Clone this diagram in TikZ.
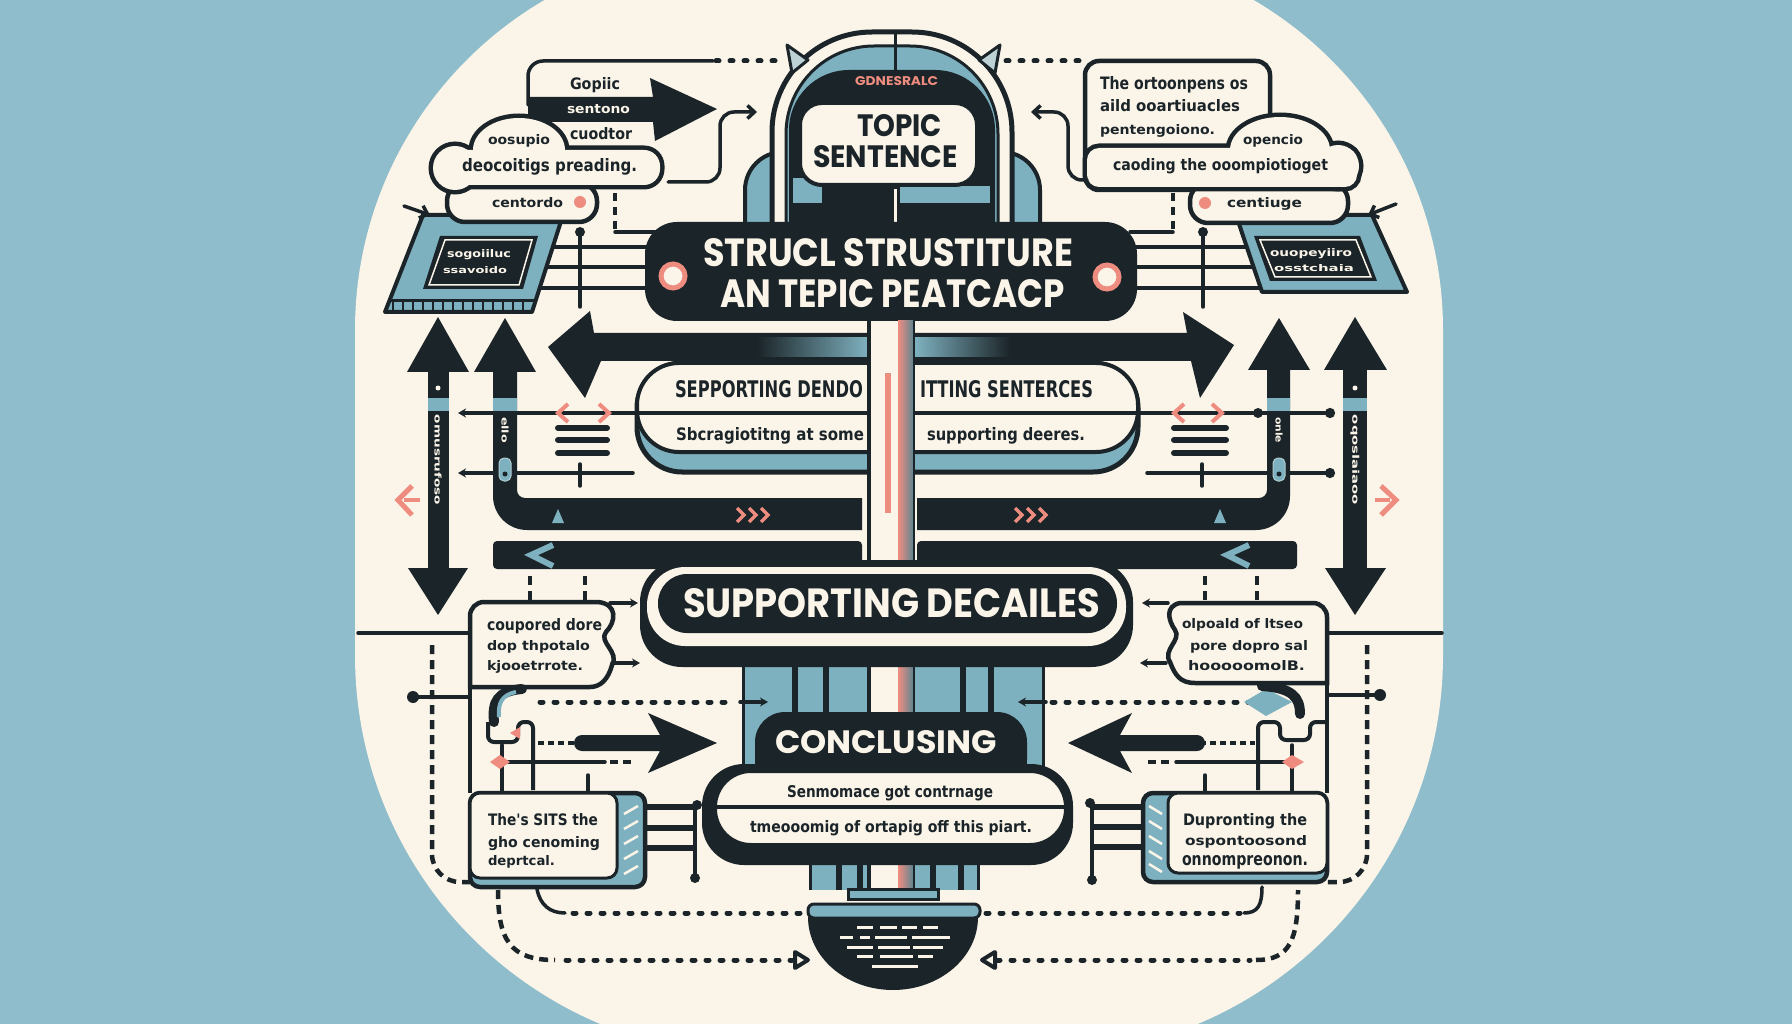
\documentclass[tikz,border=0pt]{standalone}
\usepackage{fontspec}
\usepackage{graphicx}
\setmainfont{Liberation Sans}
\newfontfamily\headf{Poppins}
\newfontfamily\bodyf{DejaVu Sans}
\usetikzlibrary{arrows.meta}
\definecolor{bgb}{HTML}{8FBDCB}
\definecolor{crm}{HTML}{FAF4E9}
\definecolor{dk}{HTML}{1B2428}
\definecolor{tl}{HTML}{7EB1BF}
\definecolor{pk}{HTML}{EF8C80}
\newcommand{\fitt}[3]{\resizebox{#1pt}{#2pt}{#3}}
\tikzset{
  thinl/.style={draw=dk, line width=3.5pt, line cap=round},
  dotln/.style={draw=dk, line width=5pt, line cap=round, dash pattern=on 3pt off 11pt},
  dashv/.style={draw=dk, line width=4.5pt, dash pattern=on 9pt off 6pt},
  tb/.style={anchor=base west, inner sep=0pt, outer sep=0pt, text=dk, font=\bodyf\bfseries},
  th/.style={anchor=base west, inner sep=0pt, outer sep=0pt, text=crm, font=\headf\bfseries},
  thd/.style={th, text=dk},
  tip/.style={-{Straight Barb[length=7pt,width=13pt]}},
  stl/.style={-{Stealth[length=8pt,width=9pt]}},
}
\begin{document}
\begin{tikzpicture}[x=1pt,y=-1pt]
\useasboundingbox (0,0) rectangle (1792,1024);
\fill[bgb] (0,0) rectangle (1792,1024);
% cream blob
\fill[crm] (355,330) arc[start angle=180,end angle=270,radius=382] -- (1061,-52)
  arc[start angle=270,end angle=360,radius=382] -- (1443,655)
  arc[start angle=0,end angle=90,radius=400] -- (755,1055)
  arc[start angle=90,end angle=180,radius=400] -- cycle;

% ---------- top connectors
\draw[dotln] (716,61) -- (784,61);
\draw[dotln] (1006,61) -- (1080,61);
\draw[thinl, rounded corners=15pt] (528,105) -- (528,61) -- (713,61);

% ---------- arch (topic sentence)
\filldraw[fill=tl, draw=dk, line width=4pt, rounded corners=38pt] (745,240) -- (745,152) -- (1040,152) -- (1040,240);
\filldraw[fill=crm, draw=dk, line width=5pt, rounded corners=100pt] (772,240) -- (772,32) -- (1012,32) -- (1012,240);
\filldraw[fill=tl, draw=dk, line width=3pt, rounded corners=88pt] (786,240) -- (786,46) -- (998,46) -- (998,240);
\fill[dk, rounded corners=60pt] (789,240) -- (789,70) -- (995,70) -- (995,240);
\fill[tl] (793,178) rectangle (822,203);
\fill[tl] (900,186) rectangle (990,203);
\filldraw[fill=crm, draw=dk, line width=4pt, rounded corners=22pt] (800,103) rectangle (977,185);
\draw[dk, line width=3pt] (895,32) -- (895,70);
\draw[crm, line width=3pt] (895,189) -- (895,222);
\filldraw[fill=tl!50!crm, draw=dk, line width=3pt, line join=round] (787,45) -- (808,60) -- (792,73) -- cycle;
\filldraw[fill=tl!50!crm, draw=dk, line width=3pt, line join=round] (1000,45) -- (979,60) -- (995,73) -- cycle;
\node[anchor=base west, inner sep=0pt, text=pk, font=\headf\bfseries] (gen) at (855,86) {\fitt{83}{9}{GDNESRALC}};
\node[thd] (topic) at (857,137) {\fitt{85}{22}{TOPIC}};
\node[thd] (sent) at (813,168) {\fitt{145}{22}{SENTENCE}};

% ---------- top-left group
\draw[thinl] (530,247) -- (668,247);
\draw[thinl] (530,267) -- (668,267);
\draw[thinl] (525,288) -- (668,288);
\draw[dk, line width=4pt, dash pattern=on 8pt off 6pt] (615,193) -- (615,232);
\draw[thinl] (615,232) -- (668,232);
\draw[thinl] (580,232) -- (580,307);
\fill[dk] (580,232) circle[radius=5];
\filldraw[fill=tl, draw=dk, line width=4pt, line join=round] (423,215) -- (563,215) -- (532,312) -- (385,312) -- cycle;
\draw[dk, line width=3pt] (390,301) -- (534,301);
\foreach \i in {0,...,13} \draw[dk, line width=2.5pt] ({393+\i*10},301) -- ({393+\i*10},311);
\fill[dk] (440,236) -- (538,236) -- (523,289) -- (423,289) -- cycle;
\draw[crm, line width=1.5pt] (445,240) -- (532,240) -- (519,285) -- (429,285) -- cycle;
\node[tb, text=crm] (tlt1) at (447,258) {\fitt{64}{8}{sogoiiluc}};
\node[tb, text=crm] (tlt2) at (443,274) {\fitt{64}{7}{ssavoido}};
\draw[thinl, tip] (404,206) -- (430,215);
\filldraw[fill=crm, draw=dk, line width=4.5pt, rounded corners=18pt] (447,183) rectangle (597,222);
\fill[dk] (528,97) -- (653,97) -- (650,78) -- (717,109) -- (655,141) -- (653,122) -- (528,122) -- cycle;
\draw[dk, line width=9pt, rounded corners=16pt] (435,150) rectangle (660,185);
\draw[dk, line width=9pt] (519,150) ellipse [x radius=46, y radius=32];
\draw[dk, line width=9pt] (455,168) circle [radius=22];
\fill[crm, rounded corners=16pt] (435,150) rectangle (660,185);
\fill[crm] (519,150) ellipse [x radius=46, y radius=32];
\fill[crm] (455,168) circle [radius=22];
\node[tb] (gop) at (570,90) {\fitt{50}{12}{Gopiic}};
\node[tb, text=crm] (sto) at (567,114) {\fitt{63}{9}{sentono}};
\node[tb] (cuo) at (570,140) {\fitt{62}{12}{cuodtor}};
\node[tb] (oos) at (488,145) {\fitt{62}{10}{oosupio}};
\node[tb] (deo) at (462,172) {\fitt{175}{13}{deocoitigs preading.}};
\node[tb] (cen) at (492,208) {\fitt{71}{10}{centordo}};
\fill[pk] (580,202) circle[radius=6];
\draw[thinl, rounded corners=14pt, tip] (668,182) -| (720,112) -- (757,112);

% ---------- top-right group
\draw[thinl] (1130,247) -- (1255,247);
\draw[thinl] (1130,267) -- (1258,267);
\draw[thinl] (1130,288) -- (1262,288);
\draw[dk, line width=4pt, dash pattern=on 8pt off 6pt] (1173,193) -- (1173,232);
\draw[thinl] (1130,232) -- (1173,232);
\draw[thinl] (1203,232) -- (1203,307);
\fill[dk] (1203,232) circle[radius=5];
\filldraw[fill=crm, draw=dk, line width=4.5pt, rounded corners=14pt] (1085,61) rectangle (1270,190);
\filldraw[fill=tl, draw=dk, line width=4pt, line join=round] (1236,215) -- (1372,215) -- (1407,292) -- (1262,292) -- cycle;
\fill[dk] (1254,236) -- (1360,236) -- (1377,281) -- (1270,281) -- cycle;
\draw[crm, line width=1.5pt] (1260,240) -- (1356,240) -- (1371,277) -- (1275,277) -- cycle;
\node[tb, text=crm] (trt1) at (1270,257) {\fitt{82}{8}{ouopeyiiro}};
\node[tb, text=crm] (trt2) at (1274,272) {\fitt{80}{7}{osstchaia}};
\draw[thinl, tip] (1396,204) -- (1368,215);
\filldraw[fill=crm, draw=dk, line width=4.5pt, rounded corners=18pt] (1190,183) rectangle (1348,223);
\draw[dk, line width=9pt, rounded corners=12pt] (1087,148) rectangle (1357,187);
\draw[dk, line width=9pt] (1280,150) ellipse [x radius=50, y radius=33];
\draw[dk, line width=9pt] (1338,166) circle [radius=21];
\fill[crm, rounded corners=12pt] (1087,148) rectangle (1357,187);
\fill[crm] (1280,150) ellipse [x radius=50, y radius=33];
\fill[crm] (1338,166) circle [radius=21];
\node[tb] (tr1) at (1100,90) {\fitt{148}{13}{The ortoonpens os}};
\node[tb] (tr2) at (1100,112) {\fitt{140}{12}{aild ooartiuacles}};
\node[tb] (tr3) at (1100,135) {\fitt{115}{10}{pentengoiono.}};
\node[tb] (opc) at (1243,145) {\fitt{60}{10}{opencio}};
\node[tb] (cad) at (1113,171) {\fitt{215}{12}{caoding the ooompiotioget}};
\node[tb] (cnt) at (1227,208) {\fitt{75}{10}{centiuge}};
\fill[pk] (1205,203) circle[radius=6];
\draw[thinl, rounded corners=14pt, tip] (1087,180) -| (1068,112) -- (1031,112);

% ---------- title banner
\fill[dk, rounded corners=32pt] (645,222) rectangle (1137,321);
\filldraw[fill=crm, draw=pk, line width=5pt] (673,276) circle[radius=12];
\filldraw[fill=crm, draw=pk, line width=5pt] (1107,277) circle[radius=12];
\node[th] (ttl1) at (703,267) {\fitt{370}{28}{STRUCL STRUSTITURE}};
\node[th] (ttl2) at (720,308) {\fitt{345}{28}{AN TEPIC PEATCACP}};

% ---------- thin lines middle
\draw[thinl, {Stealth[length=8pt,width=9pt]}-] (458,413) -- (640,413);
\draw[thinl, {Stealth[length=8pt,width=9pt]}-] (458,473) -- (633,473);
\draw[thinl] (580,464) -- (580,486);
\foreach \yy in {428,440,453} \draw[dk, line width=6pt, line cap=round] (558,\yy) -- (607,\yy);
\draw[pk, line width=4pt] (568,404) -- (558,413) -- (568,422);
\draw[pk, line width=4pt] (599,404) -- (609,413) -- (599,422);
\draw[thinl, -{Circle[length=10pt]}] (1135,413) -- (1335,413);
\fill[dk] (1258,413) circle[radius=5];
\draw[thinl, -{Circle[length=10pt]}] (1147,473) -- (1335,473);
\draw[thinl] (1202,464) -- (1202,486);
\foreach \yy in {428,440,453} \draw[dk, line width=6pt, line cap=round] (1174,\yy) -- (1226,\yy);
\draw[pk, line width=4pt] (1184,404) -- (1174,413) -- (1184,422);
\draw[pk, line width=4pt] (1212,404) -- (1222,413) -- (1212,422);

% ---------- outer double arrows
\fill[dk] (428,365) rectangle (449,575);
\fill[dk] (407,372) -- (438,317) -- (469,372) -- cycle;
\fill[dk] (408,568) -- (438,615) -- (468,568) -- cycle;
\fill[tl] (428,398) rectangle (449,411);
\fill[crm] (438,388) circle[radius=2.5];
\node[rotate=-90, inner sep=0pt, text=crm, font=\bodyf\bfseries] (lab1) at (438,460) {\fitt{90}{7}{omusrufoso}};
\fill[dk] (1343,365) rectangle (1367,575);
\fill[dk] (1324,370) -- (1355,317) -- (1387,370) -- cycle;
\fill[dk] (1325,568) -- (1355,615) -- (1386,568) -- cycle;
\fill[tl] (1343,398) rectangle (1367,411);
\fill[crm] (1355,388) circle[radius=2.5];
\node[rotate=-90, inner sep=0pt, text=crm, font=\bodyf\bfseries] (lab2) at (1355,460) {\fitt{90}{7}{oqoslaiaoo}};
\draw[pk, line width=5pt] (412,486) -- (398,500) -- (412,515);
\draw[pk, line width=4pt] (404,500) -- (420,500);
\draw[pk, line width=5pt] (1381,486) -- (1396,500) -- (1381,515);
\draw[pk, line width=4pt] (1375,500) -- (1390,500);

% ---------- inner shafts with bars
\fill[dk] (493,365) -- (493,496) arc[start angle=180,end angle=90,radius=34] -- (862,530) -- (862,498) -- (525,498) arc[start angle=90,end angle=180,radius=8] -- (517,365) -- cycle;
\fill[dk] (474,372) -- (505,318) -- (536,372) -- cycle;
\fill[tl] (493,398) rectangle (517,411);
\node[rotate=-90, inner sep=0pt, text=crm, font=\bodyf\bfseries] (lab3) at (505,430) {\fitt{26}{7}{ello}};
\filldraw[fill=tl, draw=tl!60!crm, line width=1pt, rounded corners=5pt] (499,458) rectangle (511,481);
\fill[dk] (505,474) circle[radius=2.5];
\fill[dk] (917,498) -- (1259,498) arc[start angle=90,end angle=0,radius=8] -- (1267,365) -- (1290,365) -- (1290,496) arc[start angle=0,end angle=90,radius=34] -- (917,530) -- cycle;
\fill[dk] (1248,370) -- (1279,318) -- (1310,370) -- cycle;
\fill[tl] (1267,398) rectangle (1290,411);
\node[rotate=-90, inner sep=0pt, text=crm, font=\bodyf\bfseries] (lab4) at (1279,430) {\fitt{26}{7}{onle}};
\filldraw[fill=tl, draw=tl!60!crm, line width=1pt, rounded corners=5pt] (1273,458) rectangle (1285,481);
\fill[dk] (1279,474) circle[radius=2.5];
\foreach \xx in {737,749,761} \draw[pk, line width=3.5pt] (\xx,508) -- (\xx+7,515) -- (\xx,522);
\foreach \xx in {1015,1027,1039} \draw[pk, line width=3.5pt] (\xx,508) -- (\xx+7,515) -- (\xx,522);
\fill[tl] (552,523) -- (558,509) -- (564,523) -- cycle;
\fill[tl] (1214,523) -- (1220,509) -- (1226,523) -- cycle;
\fill[dk, rounded corners=4pt] (493,541) rectangle (862,569);
\fill[dk, rounded corners=4pt] (917,541) rectangle (1297,569);
\draw[tl, line width=6pt] (553,545) -- (531,555) -- (553,566);
\draw[tl, line width=6pt] (1249,545) -- (1227,555) -- (1249,566);

% ---------- big horizontal double arrow
\fill[dk] (548,347) -- (590,311) -- (594,333) -- (870,333) -- (870,361) -- (601,361) -- (585,398) -- cycle;
\fill[dk] (912,333) -- (1187,333) -- (1183,312) -- (1234,345) -- (1200,398) -- (1191,361) -- (912,361) -- cycle;
\shade[left color=dk, right color=tl] (757,338) rectangle (868,357);
\shade[left color=tl, right color=dk] (915,338) rectangle (1010,357);

% ---------- supporting box
\filldraw[fill=tl, draw=dk, line width=5pt, rounded corners=45pt] (637,363) rectangle (1138,472);
\filldraw[fill=crm, draw=dk, line width=4pt, rounded corners=42pt] (637,363) rectangle (1138,452);
\draw[dk, line width=3.5pt] (637,413) -- (1138,413);
\node[tb] (sp1) at (675,397) {\fitt{188}{17}{SEPPORTING DENDO}};
\node[tb] (sp2) at (920,397) {\fitt{173}{17}{ITTING SENTERCES}};
\node[tb] (sp3) at (676,440) {\fitt{188}{13}{Sbcragiotitng at some}};
\node[tb] (sp4) at (927,440) {\fitt{158}{13}{supporting deeres.}};

% ---------- teal columns
\fill[tl] (743,660) rectangle (1043,775);
\foreach \xx in {792,823,960,988} \fill[dk] (\xx,660) rectangle (\xx+6,712);
\draw[dk, line width=3pt] (743,660) -- (743,775);
\draw[dk, line width=3pt] (1043,660) -- (1043,775);
\fill[tl] (810,860) rectangle (978,890);
\foreach \xx in {836,857,930,958} \fill[dk] (\xx,860) rectangle (\xx+6,890);
\draw[dk, line width=3pt] (810,860) -- (810,890);
\draw[dk, line width=3pt] (978,860) -- (978,890);

% ---------- central post
\fill[crm] (870,321) rectangle (913,890);
\draw[dk, line width=4pt] (869,321) -- (869,890);
\fill[pk] (885,373) rectangle (891,513);
\shade[left color=pk, right color=tl!70!dk] (898,321) rectangle (913,890);
\draw[dk, line width=2pt] (914,321) -- (914,890);

% ---------- supporting decailes banner
\fill[dk, rounded corners=42pt] (640,560) rectangle (1133,667);
\fill[crm, rounded corners=38pt] (647,567) rectangle (1126,646);
\fill[dk, rounded corners=29pt] (658,574) rectangle (1117,633);
\node[th] (sd) at (683,617) {\fitt{417}{29}{SUPPORTING DECAILES}};

% ---------- dotted lines into columns
\draw[dotln] (540,702) -- (735,702);
\draw[thinl, stl] (740,702) -- (768,702);
\draw[dotln] (1052,702) -- (1258,702);
\draw[thinl, stl] (1046,702) -- (1018,702);

% ---------- concluding
\fill[dk, rounded corners=30pt] (755,712) rectangle (1027,790);
\node[th] (con) at (775,753) {\fitt{222}{23}{CONCLUSING}};
\fill[dk, rounded corners=42pt] (702,764) rectangle (1073,865);
\filldraw[fill=crm, draw=dk, line width=4pt, rounded corners=36pt] (715,771) rectangle (1066,845);
\draw[dk, line width=4pt] (715,807) -- (1066,807);
\node[tb] (cs1) at (787,797) {\fitt{206}{12}{Senmomace got contrnage}};
\node[tb] (cs2) at (750,832) {\fitt{282}{12}{tmeooomig of ortapig off this piart.}};

% ---------- bowl
\filldraw[fill=tl, draw=dk, line width=3pt] (848,889) rectangle (938,899);
\filldraw[fill=tl, draw=dk, line width=3pt, rounded corners=6pt] (808,904) rectangle (980,918);
\fill[dk] (978,917) arc[start angle=0,end angle=180,x radius=85,y radius=73] -- cycle;
\foreach \a/\b/\yy in {857/873/927,880/897/927,902/917/927,923/938/927,
  840/853/937,860/870/937,875/907/937,912/950/937,
  847/873/947,878/910/947,913/943/947,
  857/873/956,880/913/956,918/933/956,872/918/966}
  \draw[crm, line width=3pt] (\a,\yy) -- (\b,\yy);

% ---------- bottom-left
\draw[thinl] (358,633) -- (470,633);
\draw[thinl] (413,697) -- (470,697);
\fill[dk] (413,697) circle[radius=6];
\draw[dashv, rounded corners=28pt] (432,645) -- (432,882) -- (470,882);
\draw[dashv] (530,576) -- (530,600);
\draw[dashv] (585,576) -- (585,600);
\draw[dk, line width=4.5pt] (470,687) -- (470,793);
\filldraw[fill=crm, draw=dk, line width=4.5pt] (470,687) -- (470,616) arc[start angle=180,end angle=270,radius=14]
  -- (598,602) .. controls (618,604) and (616,622) .. (606,632) .. controls (598,642) and (620,652) .. (612,665)
  .. controls (608,680) and (600,687) .. (590,687) -- cycle;
\node[tb] (bl1) at (487,630) {\fitt{115}{12}{coupored dore}};
\node[tb] (bl2) at (487,650) {\fitt{103}{10}{dop thpotalo}};
\node[tb] (bl3) at (487,670) {\fitt{96}{10}{kjooetrrote.}};
\draw[thinl, stl] (610,603) -- (638,603);
\draw[thinl, stl] (612,663) -- (640,663);
\draw[dk, line width=10pt, line cap=round] (522,689) .. controls (497,691) and (492,702) .. (494,722);
\draw[tl, line width=4pt] (516,692) .. controls (501,695) and (498,704) .. (499,717);
\draw[dk, line width=4pt, rounded corners=6pt] (488,722) -- (488,742) -- (518,742) -- (518,722) -- (533,722) -- (533,790);
\fill[pk] (510,733) -- (520,727) -- (520,739) -- cycle;
\draw[thinl] (502,745) -- (502,793);
\draw[thinl] (502,762) -- (605,762);
\draw[dk, line width=3.5pt, dash pattern=on 8pt off 5pt] (610,762) -- (634,762);
\fill[pk] (490,762) -- (500,755) -- (510,762) -- (500,769) -- cycle;
\draw[dk, line width=4pt, dash pattern=on 6pt off 4pt] (538,743) -- (578,743);
\fill[dk] (648,713) -- (717,743) -- (648,773) -- (660,751) -- (582,751) arc[start angle=90,end angle=270,radius=8] -- (660,735) -- cycle;
\draw[thinl] (588,775) -- (588,793);
\filldraw[fill=tl, draw=dk, line width=4.5pt, rounded corners=10pt] (470,793) rectangle (645,887);
\filldraw[fill=crm, draw=dk, line width=3pt, rounded corners=10pt] (470,793) rectangle (617,878);
\foreach \yy in {810,825,840,855,870} \draw[crm, line width=2.5pt] (624,\yy+4) -- (638,\yy-4);
\foreach \yy in {807,828,848} \draw[dk, line width=6pt] (645,\yy) -- (695,\yy);
\draw[thinl] (695,805) -- (695,878);
\fill[dk] (697,805) circle[radius=5];
\fill[dk] (695,878) circle[radius=5];
\node[tb] (bl4) at (488,825) {\fitt{110}{12}{The's SITS the}};
\node[tb] (bl5) at (488,847) {\fitt{112}{11}{gho cenoming}};
\node[tb] (bl6) at (488,865) {\fitt{67}{10}{deprtcal.}};
\draw[thinl] (537,889) .. controls (540,905) and (550,913) .. (565,913);
\draw[dotln] (573,913) -- (806,913);
\draw[dashv] (498,890) .. controls (498,940) and (510,960) .. (555,960);
\draw[dotln] (566,960) -- (792,960);
\draw[dk, line width=4pt, line join=round] (795,952) -- (808,960) -- (795,968) -- cycle;

% ---------- bottom-right
\draw[thinl] (1327,633) -- (1442,633);
\draw[thinl] (1327,695) -- (1380,695);
\fill[dk] (1380,695) circle[radius=6];
\draw[dashv, rounded corners=28pt] (1367,645) -- (1367,882) -- (1327,882);
\draw[dashv] (1205,576) -- (1205,600);
\draw[dashv] (1257,576) -- (1257,600);
\draw[dk, line width=4.5pt] (1327,683) -- (1327,793);
\filldraw[fill=crm, draw=dk, line width=4.5pt] (1327,683) -- (1327,617) arc[start angle=0,end angle=-90,radius=14]
  -- (1180,603) .. controls (1165,606) and (1168,620) .. (1175,630) .. controls (1182,640) and (1162,650) .. (1170,662)
  .. controls (1175,675) and (1180,683) .. (1195,683) -- cycle;
\node[tb] (br1) at (1182,628) {\fitt{121}{10}{olpoald of ltseo}};
\node[tb] (br2) at (1190,650) {\fitt{118}{10}{pore dopro sal}};
\node[tb] (br3) at (1188,670) {\fitt{117}{10}{hooooomolB.}};
\draw[thinl, stl] (1168,603) -- (1142,603);
\draw[thinl, stl] (1166,663) -- (1140,663);
\fill[tl] (1244,702) -- (1266,689) -- (1292,702) -- (1266,716) -- cycle;
\draw[dk, line width=10pt, line cap=round] (1262,686) .. controls (1292,688) and (1300,697) .. (1300,714);
\draw[dk, line width=4pt, rounded corners=6pt] (1258,790) -- (1258,722) -- (1280,722) -- (1280,740) -- (1310,740) -- (1310,722) -- (1327,722);
\draw[thinl] (1292,745) -- (1292,793);
\draw[thinl] (1176,762) -- (1292,762);
\draw[dk, line width=3.5pt, dash pattern=on 8pt off 5pt] (1148,762) -- (1172,762);
\fill[pk] (1282,762) -- (1292,755) -- (1304,762) -- (1292,769) -- cycle;
\draw[dk, line width=4pt, dash pattern=on 6pt off 4pt] (1200,743) -- (1255,743);
\fill[dk] (1132,713) -- (1068,743) -- (1132,773) -- (1120,751) -- (1197,751) arc[start angle=90,end angle=-90,radius=8] -- (1120,735) -- cycle;
\draw[thinl] (1205,775) -- (1205,793);
\filldraw[fill=tl, draw=dk, line width=4.5pt, rounded corners=10pt] (1143,793) rectangle (1327,882);
\filldraw[fill=crm, draw=dk, line width=3pt, rounded corners=10pt] (1168,793) rectangle (1327,873);
\foreach \yy in {810,825,840,855,868} \draw[crm, line width=2.5pt] (1149,\yy-4) -- (1162,\yy+4);
\foreach \yy in {807,827,847} \draw[dk, line width=6pt] (1092,\yy) -- (1143,\yy);
\draw[thinl] (1092,803) -- (1092,880);
\fill[dk] (1090,803) circle[radius=5];
\fill[dk] (1092,880) circle[radius=5];
\node[tb] (br4) at (1183,825) {\fitt{124}{12}{Dupronting the}};
\node[tb] (br5) at (1185,845) {\fitt{122}{10}{ospontoosond}};
\node[tb] (br6) at (1182,865) {\fitt{126}{10}{onnompreonon.}};
\draw[dotln] (986,913) -- (1240,913);
\draw[thinl] (1244,913) .. controls (1258,913) and (1262,905) .. (1262,887);
\draw[dotln] (997,960) -- (1250,960);
\draw[dashv] (1256,960) .. controls (1290,960) and (1298,940) .. (1298,890);
\draw[dk, line width=4pt, line join=round] (995,952) -- (982,960) -- (995,968) -- cycle;
\end{tikzpicture}
\end{document}
